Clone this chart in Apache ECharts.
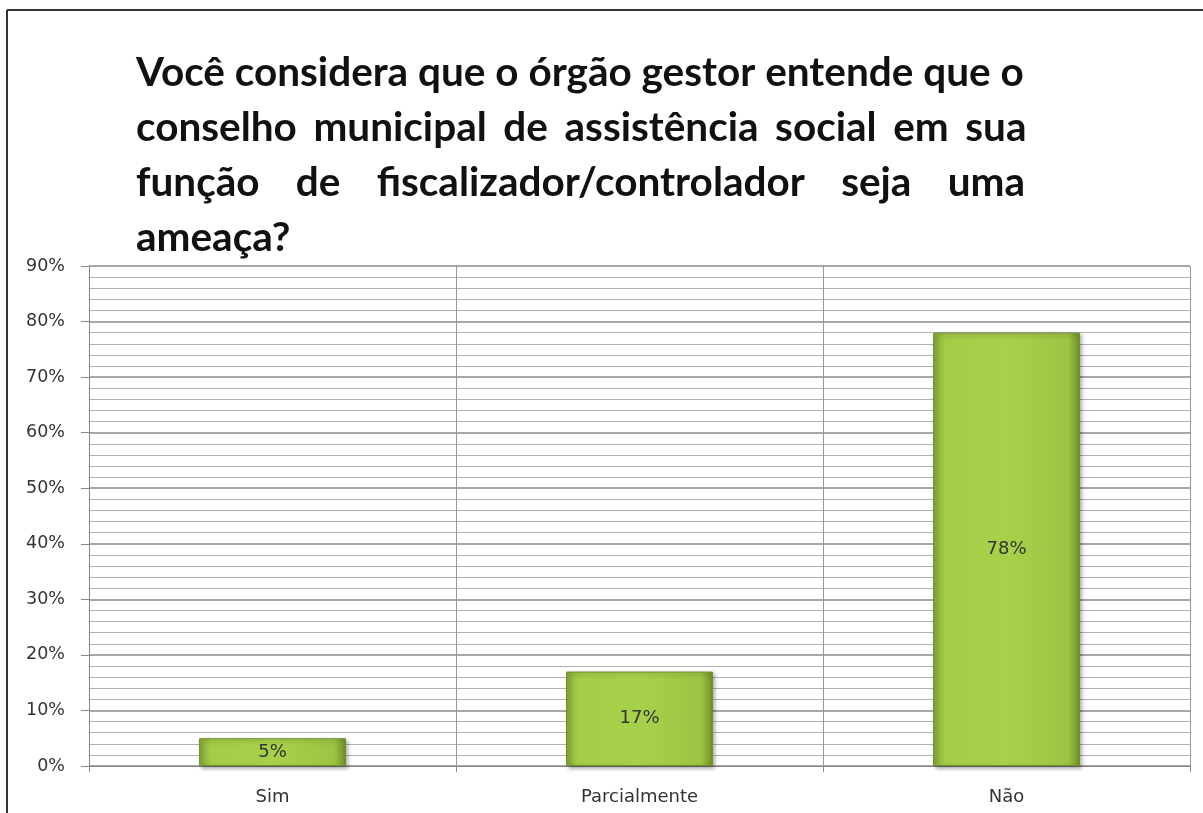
<!DOCTYPE html>
<html>
<head>
<meta charset="utf-8">
<script src="https://cdn.jsdelivr.net/npm/echarts@6/dist/echarts.min.js"></script>
<style>
  html, body { margin: 0; padding: 0; background: #fff; }
  #main { width: 1203px; height: 813px; }
</style>
</head>
<body>
<div id="main"></div>
<script>
// dados do gráfico
var categorias = ['Sim', 'Parcialmente', 'Não'];
var valores = [5, 17, 78];
// linhas do título (espaços extras imitam o texto justificado)
var sp = ' \u2006';
var titulo = [
  'Você considera que o órgão gestor entende que o',
  ['conselho', 'municipal', 'de', 'assistência', 'social', 'em', 'sua'].join(sp),
  ['função', 'de', 'fiscalizador/controlador', 'seja', 'uma'].join('  ' + sp),
  'ameaça?'
];

var chart = echarts.init(document.getElementById('main'));

var option = {
  backgroundColor: '#fff',
  animation: false,
  title: {
    text: titulo.join('\n'),
    left: 131,
    top: 40,
    textStyle: {
      fontFamily: 'Lato',
      fontWeight: 'bold',
      fontSize: 40.5,
      lineHeight: 55,
      color: '#111'
    }
  },
  graphic: [
    { type: 'line', shape: { x1: 7, y1: 10, x2: 1203, y2: 10 }, style: { stroke: '#333', lineWidth: 2 } },
    { type: 'line', shape: { x1: 7, y1: 10, x2: 7, y2: 813 }, style: { stroke: '#333', lineWidth: 2 } }
  ],
  grid: { left: 89, right: 13, top: 266, bottom: 47 },
  xAxis: {
    type: 'category',
    data: categorias,
    axisLine: { lineStyle: { color: '#888' } },
    axisTick: { show: true, length: 6, lineStyle: { color: '#888' } },
    splitLine: { show: true, lineStyle: { color: '#999', width: 1 } },
    axisLabel: { color: '#333', fontFamily: 'DejaVu Sans', fontSize: 18, margin: 22 }
  },
  yAxis: {
    type: 'value',
    min: 0,
    max: 90,
    interval: 10,
    axisLine: { show: true, lineStyle: { color: '#888' } },
    axisTick: { show: true, length: 8, lineStyle: { color: '#888' } },
    axisLabel: { color: '#333', fontFamily: 'DejaVu Sans', fontSize: 17.5, margin: 24, formatter: '{value}%' },
    splitLine: { show: true, lineStyle: { color: '#8a8a8a', width: 1.5 } },
    minorTick: { show: false, splitNumber: 5 },
    minorSplitLine: { show: true, lineStyle: { color: '#b0b0b0', width: 1.2 } }
  },
  series: [{
    type: 'bar',
    data: valores,
    barWidth: '40%',
    itemStyle: {
      color: new echarts.graphic.LinearGradient(0, 0, 1, 0, [
        { offset: 0, color: '#84a837' },
        { offset: 0.08, color: '#a3cc47' },
        { offset: 0.5, color: '#a8d14b' },
        { offset: 0.92, color: '#9dc443' },
        { offset: 1, color: '#6e8f27' }
      ]),
      borderColor: '#6f8f2a',
      borderWidth: 1,
      shadowColor: 'rgba(0,0,0,0.35)',
      shadowBlur: 4,
      shadowOffsetX: 2,
      shadowOffsetY: 2
    },
    label: {
      show: true,
      position: 'inside',
      color: '#333',
      fontFamily: 'DejaVu Sans',
      fontSize: 18,
      formatter: '{c}%'
    }
  }]
};

chart.setOption(option);
</script>
</body>
</html>
